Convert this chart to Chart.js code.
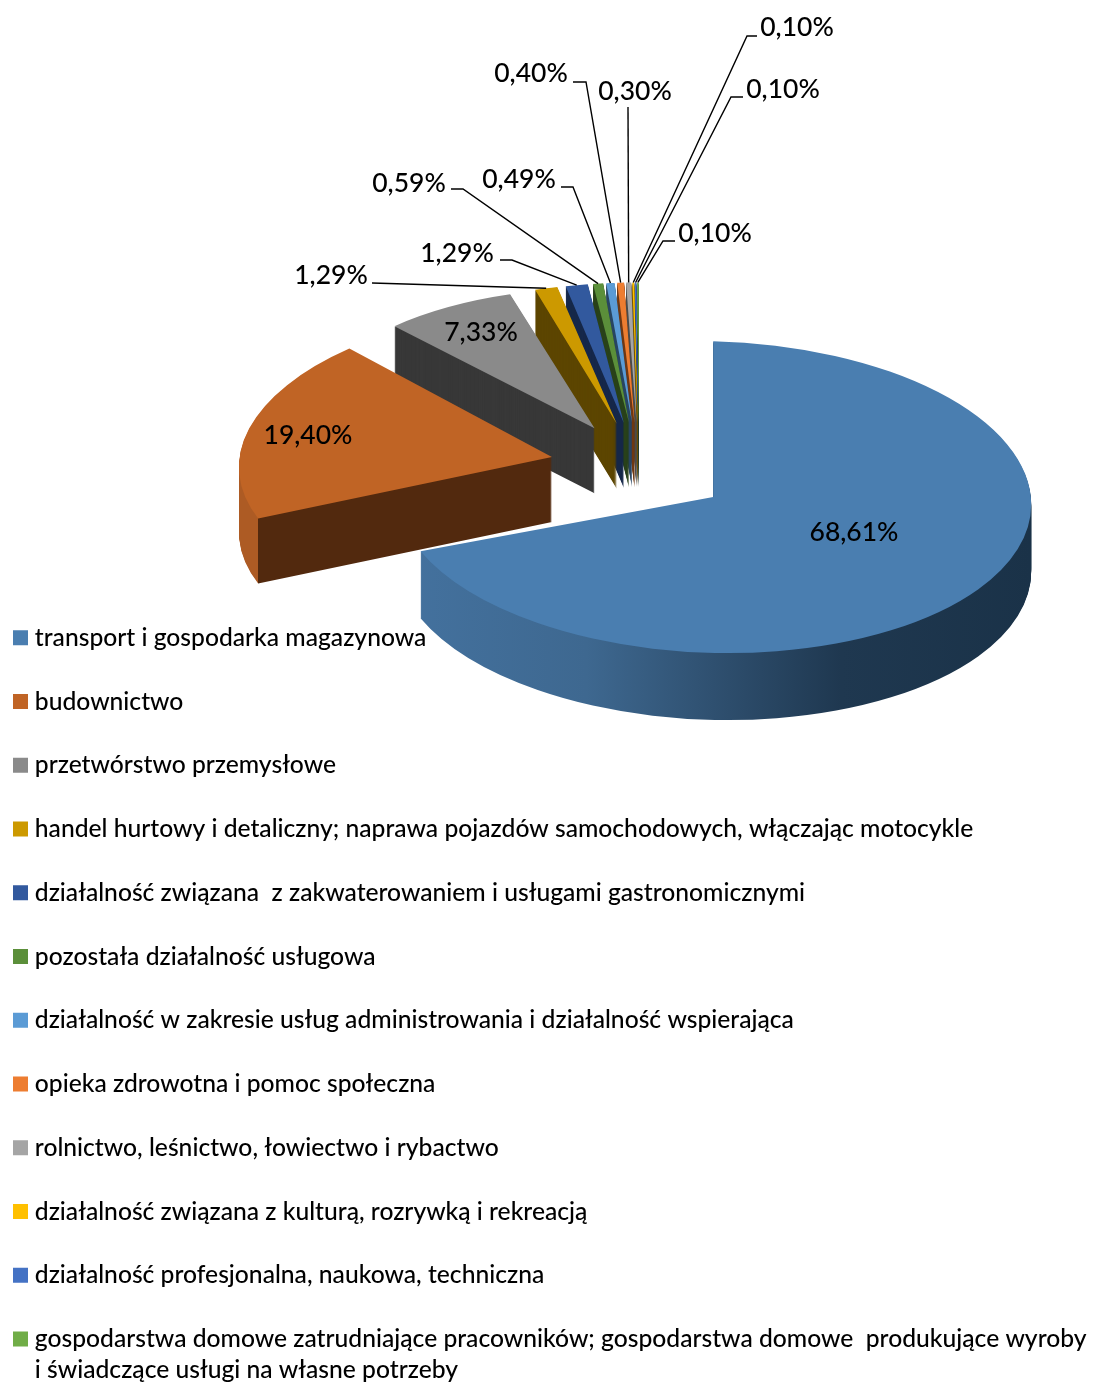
<!DOCTYPE html>
<html><head><meta charset="utf-8">
<style>html,body{margin:0;padding:0;background:#fff}canvas{display:block}</style>
<script src="https://cdn.jsdelivr.net/npm/chart.js@4"></script>
</head><body>
<canvas id="c" width="1098" height="1383"></canvas>
<script>
const categories = [
  'transport i gospodarka magazynowa',
  'budownictwo',
  'przetwórstwo przemysłowe',
  'handel hurtowy i detaliczny; naprawa pojazdów samochodowych, włączając motocykle',
  'działalność związana  z zakwaterowaniem i usługami gastronomicznymi',
  'pozostała działalność usługowa',
  'działalność w zakresie usług administrowania i działalność wspierająca',
  'opieka zdrowotna i pomoc społeczna',
  'rolnictwo, leśnictwo, łowiectwo i rybactwo',
  'działalność związana z kulturą, rozrywką i rekreacją',
  'działalność profesjonalna, naukowa, techniczna',
  ['gospodarstwa domowe zatrudniające pracowników; gospodarstwa domowe  produkujące wyroby','i świadczące usługi na własne potrzeby']
];
const shares = [68.61, 19.40, 7.33, 1.29, 1.29, 0.59, 0.49, 0.40, 0.30, 0.10, 0.10, 0.10];
const topColors = ['#4a7eb0','#c06425','#8a8a8a','#cc9900','#32599e','#5b8f3a','#5b9bd5','#ed7d31','#a5a5a5','#ffc000','#4472c4','#70ad47'];
const cutColors = ['#1b3349','#52290e','#383838','#5c4500','#16284a','#2a421b','#2a4763','#6f3a17','#4d4d4d','#775a00','#20355c','#345221'];

// 3-D view settings
const PIE = {cx:639, cy:466, radius:318, explode:89, tilt:0.49};
const sliceDepth  = [67,65,65,65,65,65,65,65,65,65,65,65];
const sliceScaleX = [1,0.983,0.92,0.89,0.87,0.87,0.87,0.87,0.87,0.87,0.87,0.87];
const sliceScaleY = [0.49,0.475,0.44,0.44,0.44,0.44,0.44,0.44,0.44,0.44,0.44,0.44];
const sliceShearX = [0,-0.0486,0,0,0,0,0,0,0,0,0,0];
const sliceShearY = [0.023,-0.0082,0,0,0,0,0,0,0,0,0,0];
const sliceShiftY = [7,0,0,0,0,0,0,0,0,0,0,0];
// value-label layout: text centre, then leader elbow points from the text towards the slice
const labelPos = [[854,532],[308,435],[481,332],[331,275],[457,253],[409,183],[519,179],[531,73],[635,91],[797,27],[783,89],[715,233]];
const labelLeader = [null,null,null,[[372,283]],[[500,260],[512,260]],[[451,189],[463,189]],[[561,187],[573,187]],[[573,82],[586,82]],[[628,107]],[[757,36],[747,36]],[[743,97],[731,97]],[[675,241],[663,241]]];

const FONT = 'Lato, sans-serif';

function sliceFrame(arc, i){
  const mid = (arc.startAngle + arc.endAngle)/2;
  const sx = PIE.cx + Math.cos(mid)*PIE.explode;
  const sy = PIE.cy + Math.sin(mid)*PIE.explode*PIE.tilt + sliceShiftY[i];
  return {mid, tx:arc.x, ty:arc.y, sx, sy, a:sliceScaleX[i], b:sliceShearY[i], c:sliceShearX[i], d:sliceScaleY[i]};
}
function sideFill(ctx, arc, i, f){
  if (i > 1) return cutColors[i];
  const r = arc.outerRadius, g = ctx.createLinearGradient(f.tx - r, 0, f.tx + r, 0);
  if (i === 0){
    g.addColorStop(0.0,'#44729f'); g.addColorStop(0.30,'#3e6890');
    g.addColorStop(0.50,'#2f5070'); g.addColorStop(0.70,'#1f3850'); g.addColorStop(1,'#1a3248');
  } else {
    const k = (1 + Math.cos(arc.startAngle))/2;
    g.addColorStop(0,'#ad5b24'); g.addColorStop(k,'#ad5b24');
    g.addColorStop(k,cutColors[i]); g.addColorStop(1,cutColors[i]);
  }
  return g;
}
const pie3d = {
  id:'pie3d',
  beforeDraw(chart){
    const lg = chart.legend, pad = lg.options.labels.padding;
    lg.left = 18.5 - pad;
    lg.top = 638 - 12.5 - pad;
    lg.right = 1200;
    lg.bottom = 3000;
  },
  beforeDatasetsDraw(chart){
    const ctx = chart.ctx, arcs = chart.getDatasetMeta(0).data;
    for (let i = arcs.length-1; i >= 0; i--){
      const arc = arcs[i], f = sliceFrame(arc,i), opts = arc.options;
      for (let k = sliceDepth[i]; k >= 0; k--){
        ctx.save();
        ctx.translate(f.sx, f.sy + k);
        ctx.transform(f.a, f.b, f.c, f.d, 0, 0);
        ctx.translate(-f.tx, -f.ty);
        const o = Object.create(opts);
        o.backgroundColor = k === 0 ? topColors[i] : sideFill(ctx, arc, i, f);
        arc.options = o;
        arc.draw(ctx);
        arc.options = opts;
        ctx.restore();
      }
    }
    return false;
  },
  afterDraw(chart){
    const ctx = chart.ctx, arcs = chart.getDatasetMeta(0).data;
    ctx.save();
    ctx.strokeStyle = '#000'; ctx.lineWidth = 1.4;
    arcs.forEach((arc,i)=>{
      const pts = labelLeader[i];
      if (!pts) return;
      const f = sliceFrame(arc,i), r = arc.outerRadius;
      ctx.beginPath();
      pts.forEach((p,k)=> k ? ctx.lineTo(p[0],p[1]) : ctx.moveTo(p[0],p[1]));
      ctx.lineTo(f.sx + Math.cos(f.mid)*r*f.a, f.sy + Math.sin(f.mid)*r*f.d);
      ctx.stroke();
    });
    ctx.fillStyle = '#000';
    ctx.font = '500 26.5px ' + FONT;
    ctx.textAlign = 'center'; ctx.textBaseline = 'middle';
    shares.forEach((v,i)=>{
      ctx.fillText(v.toFixed(2).replace('.',',') + '%', labelPos[i][0], labelPos[i][1]);
    });
    ctx.restore();
  }
};

new Chart(document.getElementById('c'), {
  type:'pie',
  data:{labels:categories, datasets:[{data:shares, backgroundColor:topColors, borderWidth:0, offset:0, hoverOffset:0}]},
  options:{
    responsive:false, animation:false, radius:PIE.radius,
    events:[],
    plugins:{
      tooltip:{enabled:false},
      legend:{
        position:'left', align:'start',
        labels:{
          boxWidth:4, boxHeight:4, padding:39.1, color:'#000',
          font:{family:FONT, size:24.65, weight:'500', lineHeight:1.25},
          generateLabels(){
            return categories.map((t,i)=>({text:t, fillStyle:topColors[i], strokeStyle:topColors[i], lineWidth:11, hidden:false, index:i}));
          }
        }
      }
    }
  },
  plugins:[pie3d]
});
</script>
</body></html>
